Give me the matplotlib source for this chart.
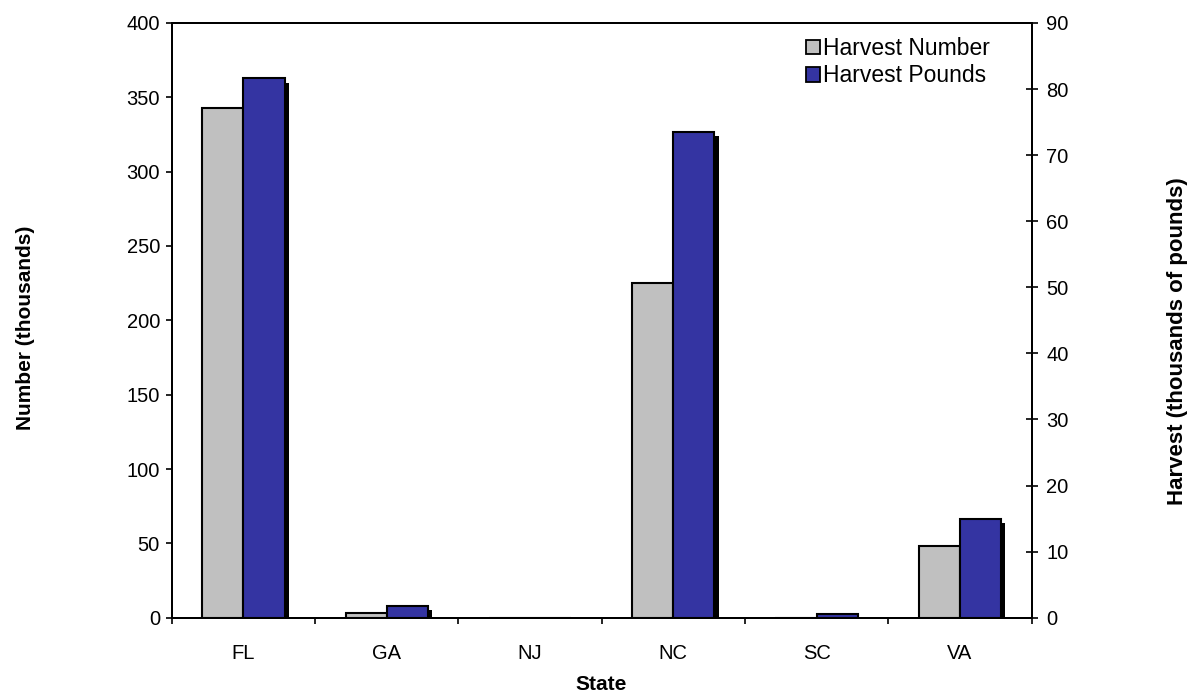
import numpy as np
import matplotlib
matplotlib.use('Agg')
import matplotlib.pyplot as plt
import matplotlib.patheffects as pe
from matplotlib.patches import Patch
from matplotlib.ticker import FixedLocator, NullFormatter

plt.rcParams['font.family'] = ['Liberation Sans', 'DejaVu Sans']

states = ['FL', 'GA', 'NJ', 'NC', 'SC', 'VA']
harvest_number = [343, 3.4, 0, 225, 0, 48.4]       # thousands, left axis
harvest_pounds = [81.6, 1.8, 0, 73.5, 0.6, 15.0]   # thousands of pounds, right axis

grey = '#c0c0c0'
blue = '#3434a2'
w = 0.287
shadow = [pe.SimplePatchShadow(offset=(3, -3), shadow_rgbFace='black', alpha=1.0), pe.Normal()]

fig = plt.figure(figsize=(11.91, 6.96), dpi=100)
ax = fig.add_axes([0.1442, 0.1125, 0.7219, 0.8545])
ax2 = ax.twinx()

x = np.arange(len(states))
b1 = ax.bar(x - w/2, harvest_number, w, color=grey, edgecolor='black', linewidth=1.5, zorder=2)
b2 = ax2.bar(x + w/2, harvest_pounds, w, color=blue, edgecolor='black', linewidth=1.5, zorder=2)
for p in list(b1) + list(b2):
    p.set_path_effects(shadow)

ax.set_xlim(-0.5, 5.5)
ax.set_ylim(0, 400)
ax2.set_ylim(0, 90)
ax.set_yticks(np.arange(0, 401, 50))
ax2.set_yticks(np.arange(0, 91, 10))

# category boundaries get the tick marks, names sit at the centres
ax.xaxis.set_major_locator(FixedLocator(np.arange(-0.5, 6, 1)))
ax.xaxis.set_major_formatter(NullFormatter())
ax.xaxis.set_minor_locator(FixedLocator(x))
ax.set_xticklabels(states, minor=True)
ax.tick_params(axis='x', which='minor', length=0, labelsize=14.5, pad=19)
ax.tick_params(axis='x', which='major', direction='out', length=4.5, width=1.2)
ax.tick_params(axis='y', direction='out', length=4.5, width=1.2, labelsize=14.5, pad=4)
ax2.tick_params(axis='y', direction='inout', length=9, width=1.2, labelsize=14.5, pad=6)

for a in (ax, ax2):
    for s in a.spines.values():
        s.set_linewidth(1.4)

fig.text(0.0215, 0.529, 'Number (thousands)', rotation=90, ha='center', va='center',
         fontsize=15, fontweight='bold')
fig.text(0.9885, 0.510, 'Harvest (thousands of pounds)', rotation=90, ha='center', va='center',
         fontsize=16, fontweight='bold')
fig.text(0.505, 0.017, 'State', ha='center', va='center', fontsize=15, fontweight='bold')

handles = [Patch(facecolor=grey, edgecolor='black', linewidth=1.3, label='Harvest Number'),
           Patch(facecolor=blue, edgecolor='black', linewidth=1.3, label='Harvest Pounds')]
fig.legend(handles=handles, loc='upper left', bbox_to_anchor=(0.677, 0.947), frameon=False,
           fontsize=16.5, handlelength=0.6, handleheight=0.6, handletextpad=0.15,
           labelspacing=0.2, borderpad=0, borderaxespad=0)

fig.savefig('out.png', dpi=100)
